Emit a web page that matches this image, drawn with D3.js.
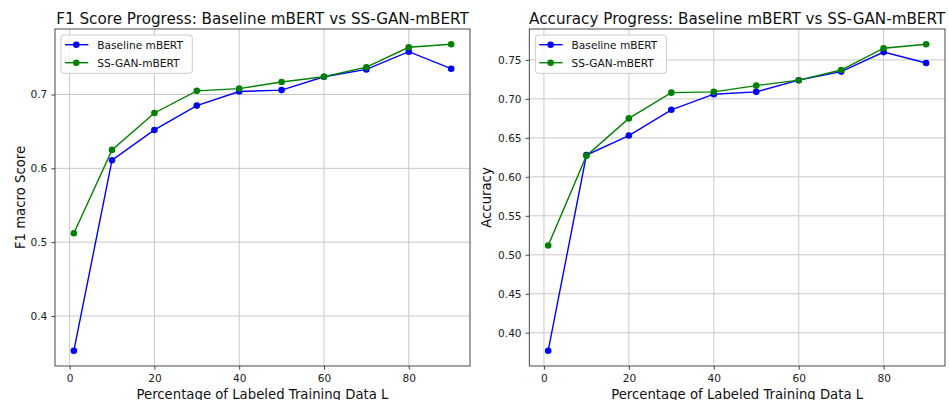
<!DOCTYPE html>
<html>
<head>
<meta charset="utf-8">
<script src="https://cdnjs.cloudflare.com/ajax/libs/d3/7.8.5/d3.min.js"></script>
<style>
  body { margin: 0; background: #fff; }
  svg { display: block; font-family: "DejaVu Sans", sans-serif; }
</style>
</head>
<body>
<div id="canvas"></div>
<script>
// data
var labeledPct = [1, 10, 20, 30, 40, 50, 60, 70, 80, 90];
var f1Baseline = [0.353, 0.611, 0.652, 0.685, 0.704, 0.706, 0.724, 0.734, 0.758, 0.735];
var f1SsGan = [0.512, 0.625, 0.675, 0.705, 0.708, 0.717, 0.724, 0.737, 0.764, 0.768];
var accBaseline = [0.377, 0.628, 0.653, 0.686, 0.706, 0.709, 0.724, 0.735, 0.760, 0.746];
var accSsGan = [0.512, 0.627, 0.675, 0.708, 0.709, 0.717, 0.724, 0.737, 0.765, 0.770];
var xTicks = [0, 20, 40, 60, 80];
var f1Ticks = [0.4, 0.5, 0.6, 0.7];
var accTicks = [0.40, 0.45, 0.50, 0.55, 0.60, 0.65, 0.70, 0.75];
var seriesNames = ["Baseline mBERT", "SS-GAN-mBERT"];
var seriesColors = ["#0000ff", "#008000"];

var width = 949, height = 400;
var svg = d3.select("#canvas").append("svg").attr("width", width).attr("height", height);

// matplotlib-like 5% margins around the data
var padded = function(ext) {
	var m = (ext[1] - ext[0]) * 0.05;
	return [ext[0] - m, ext[1] + m];
};

var drawPanel = function(opts) {
	var left = opts.left, right = opts.right, top = 29, bottom = 366;
	var g = svg.append("g");

	var x = d3.scaleLinear().domain(padded(d3.extent(labeledPct))).range([left, right]);
	var allY = opts.series[0].concat(opts.series[1]);
	var y = d3.scaleLinear().domain(padded(d3.extent(allY))).range([bottom, top]);

	// grid
	g.selectAll(".gx").data(xTicks).enter().append("line")
		.attr("x1", function(d) { return x(d); }).attr("x2", function(d) { return x(d); })
		.attr("y1", top).attr("y2", bottom)
		.attr("stroke", "#c8c8c8").attr("stroke-width", 1);
	g.selectAll(".gy").data(opts.yTicks).enter().append("line")
		.attr("x1", left).attr("x2", right)
		.attr("y1", function(d) { return y(d); }).attr("y2", function(d) { return y(d); })
		.attr("stroke", "#c8c8c8").attr("stroke-width", 1);

	// axes
	var xAxis = d3.axisBottom(x).tickValues(xTicks).tickSize(3.7).tickPadding(5).tickFormat(d3.format("d"));
	var yAxis = d3.axisLeft(y).tickValues(opts.yTicks).tickSize(3.7).tickPadding(4).tickFormat(d3.format(opts.yFormat));
	var gx = g.append("g").attr("transform", "translate(0," + bottom + ")").call(xAxis);
	var gy = g.append("g").attr("transform", "translate(" + left + ",0)").call(yAxis);
	[gx, gy].forEach(function(a) {
		a.select(".domain").remove();
		a.selectAll("line").attr("stroke", "#333").attr("stroke-width", 0.9);
		a.selectAll("text").attr("fill", "#222").style("font-size", "10.6px").style("font-family", "DejaVu Sans");
	});

	g.append("rect").attr("x", left).attr("y", top)
		.attr("width", right - left).attr("height", bottom - top)
		.attr("fill", "none").attr("stroke", "#333").attr("stroke-width", 0.9);

	// series
	opts.series.forEach(function(vals, k) {
		var pts = labeledPct.map(function(p, i) { return [p, vals[i]]; });
		var line = d3.line().x(function(d) { return x(d[0]); }).y(function(d) { return y(d[1]); });
		g.append("path").datum(pts).attr("d", line)
			.attr("fill", "none").attr("stroke", seriesColors[k]).attr("stroke-width", 1.4);
		g.selectAll(".pt" + k).data(pts).enter().append("circle")
			.attr("cx", function(d) { return x(d[0]); })
			.attr("cy", function(d) { return y(d[1]); })
			.attr("r", 3.3).attr("fill", seriesColors[k]);
	});

	// title and labels
	g.append("text").text(opts.title)
		.attr("x", (left + right) / 2).attr("y", 24.3)
		.attr("text-anchor", "middle").attr("fill", "#111")
		.style("font-size", "15.2px");
	g.append("text").text("Percentage of Labeled Training Data L")
		.attr("x", (left + right) / 2).attr("y", 399)
		.attr("text-anchor", "middle").attr("fill", "#111")
		.style("font-size", "13.25px");
	g.append("text").text(opts.yLabel)
		.attr("transform", "translate(" + opts.yLabelX + "," + (top + bottom) / 2 + ") rotate(-90)")
		.attr("text-anchor", "middle").attr("fill", "#111")
		.style("font-size", "13.25px");

	// legend
	var lg = g.append("g").attr("transform", "translate(" + (left + 6) + ",35)");
	lg.append("rect").attr("width", 131.3).attr("height", 38.3)
		.attr("rx", 3).attr("ry", 3)
		.attr("fill", "rgba(255,255,255,0.8)").attr("stroke", "#cccccc").attr("stroke-width", 1);
	seriesNames.forEach(function(name, k) {
		var ry = 9.7 + k * 18;
		lg.append("line").attr("x1", 4).attr("x2", 27.3).attr("y1", ry).attr("y2", ry)
			.attr("stroke", seriesColors[k]).attr("stroke-width", 1.4);
		lg.append("circle").attr("cx", 15.3).attr("cy", ry).attr("r", 3.3).attr("fill", seriesColors[k]);
		lg.append("text").text(name).attr("x", 36.3).attr("y", ry).attr("dy", "0.36em")
			.attr("fill", "#111").style("font-size", "10.6px");
	});
};

drawPanel({
	left: 55, right: 470,
	series: [f1Baseline, f1SsGan],
	yTicks: f1Ticks, yFormat: ".1f",
	title: "F1 Score Progress: Baseline mBERT vs SS-GAN-mBERT",
	yLabel: "F1 macro Score", yLabelX: 24.5
});

drawPanel({
	left: 529.3, right: 945,
	series: [accBaseline, accSsGan],
	yTicks: accTicks, yFormat: ".2f",
	title: "Accuracy Progress: Baseline mBERT vs SS-GAN-mBERT",
	yLabel: "Accuracy", yLabelX: 490.7
});
</script>
</body>
</html>
